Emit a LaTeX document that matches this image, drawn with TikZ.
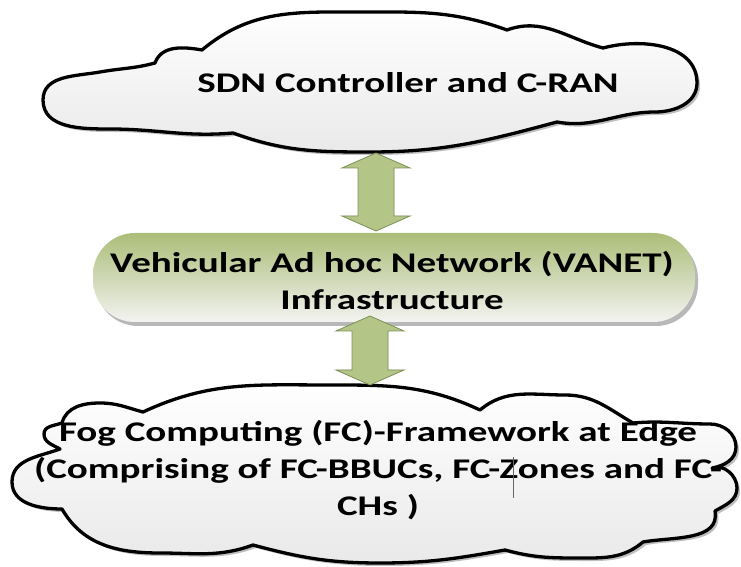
\documentclass[tikz,border=0pt]{standalone}
\usepackage{fontspec}
\newfontfamily\lblfont[FakeStretch=1.37]{Carlito}
\usetikzlibrary{calc}
\definecolor{arrowgreen}{HTML}{B3C688}
\definecolor{arrowedge}{HTML}{7F9055}
\definecolor{pilltop}{HTML}{ABBD78}
\definecolor{pillbottom}{HTML}{F3F3F1}

% two-headed block arrow between a top tip and a bottom tip
\newcommand\blockarrow[3]{%
  \path[#1] let \p1=(#2), \p2=(#3) in
    (\x1,\y1) -- (\x1+34,\y1-15) -- (\x1+18,\y1-15) -- (\x2+18,\y2+15)
    -- (\x2+34,\y2+15) -- (\x2,\y2) -- (\x2-34,\y2+15) -- (\x2-18,\y2+15)
    -- (\x1-18,\y1-15) -- (\x1-34,\y1-15) -- cycle;}

% outline of the upper cloud
\newcommand\uppercloud[1]{%
  \path[#1] (233,434) to[out=185,in=0] (110,438) to[out=180,in=-90] (43,467)
    to[out=90,in=190] (100,495) to[out=10,in=195] (155,504)
    to[out=70,in=170] (202,517) to[out=40,in=180] (360,555)
    to[out=0,in=160] (507,537) to[out=20,in=165] (603,519)
    to[out=15,in=90] (697,484) to[out=-90,in=0] (655,455)
    to[out=180,in=-10] (557,445) to[out=-165,in=0] (370,415)
    to[out=180,in=-20] (233,434) -- cycle;}

% outline of the lower cloud
\newcommand\lowercloud[1]{%
  \path[#1] (62,144) to[out=75,in=180] (100,164) to[out=0,in=165] (143,155)
    to[out=25,in=180] (330,182) to[out=0,in=155] (480,157)
    to[out=40,in=180] (565,172) to[out=0,in=150] (633,144)
    to[out=5,in=180] (710,143) to[out=0,in=90] (736,120)
    to[out=-90,in=10] (712,99) to[out=20,in=90] (737,79)
    to[out=-90,in=30] (715,56) to[out=-80,in=10] (643,25)
    to[out=-140,in=0] (575,9) to[out=180,in=-15] (505,17)
    to[out=-170,in=0] (380,4) to[out=180,in=-15] (253,22)
    to[out=-160,in=0] (160,14) to[out=180,in=-60] (62,58)
    to[out=180,in=-90] (12,85) to[out=90,in=200] (60,118)
    to[out=150,in=-90] (44,133) to[out=90,in=200] (62,144) -- cycle;}

% white-to-grey fill made of thin horizontal bands, from #1 (top) to #2 (bottom)
\newcommand\bandfill[2]{%
  \foreach \k in {0,...,39} {
    \pgfmathsetmacro\g{\k*0.22}
    \fill[black!\g] (0,{#1-(#1-#2)*\k/40}) rectangle (741,{#1-(#1-#2)*(\k+1)/40-0.6});
  }}

\begin{document}
\begin{tikzpicture}[x=1pt,y=1pt,
  cloudline/.style={draw=black, line width=3.3pt, line join=round},
  cloudshadow/.style={fill=black!25, shift={(3,-3)}},
  lbl/.style={font=\lblfont\bfseries\fontsize{28.5}{37}\selectfont,
    align=center, text=black, inner sep=0pt},
  pill/.style={rounded corners=42pt, minimum width=602pt, minimum height=89pt,
    top color=pilltop, bottom color=pillbottom, draw=none},
  pillshadow/.style={rounded corners=42pt, minimum width=602pt, minimum height=89pt,
    fill=black!28, draw=none},
  arrowbody/.style={fill=arrowgreen, draw=arrowedge, line width=0.8pt, line join=miter},
  arrowshadow/.style={fill=black!30, shift={(4,-2)}}]
\useasboundingbox (0,0) rectangle (741,567);

% upper cloud: shadow, graded body, outline
\uppercloud{cloudshadow}
\begin{scope}
  \uppercloud{clip}
  \bandfill{560}{410}
\end{scope}
\uppercloud{cloudline}

% lower cloud: shadow, graded body, outline
\lowercloud{cloudshadow}
\begin{scope}
  \lowercloud{clip}
  \bandfill{188}{0}
\end{scope}
\lowercloud{cloudline}

% middle layer
\node[pillshadow] (vanetshadow) at (397,285.5) {};
\node[pill] (vanet) at (394,289.5) {};

% arrow tips
\coordinate (sdnbase) at (376,414);
\coordinate (vanettop) at (376,336);
\coordinate (vanetbase) at (370,251);
\coordinate (fogtop) at (370,182);

\blockarrow{arrowshadow}{sdnbase}{vanettop}
\blockarrow{arrowbody}{sdnbase}{vanettop}
\blockarrow{arrowshadow}{vanetbase}{fogtop}
\blockarrow{arrowbody}{vanetbase}{fogtop}

% labels
\node[lbl] (sdn) at (408,484) {SDN Controller and C-RAN};
\node[lbl] (vanettext) at (392,286) {Vehicular Ad hoc Network (VANET)\\Infrastructure};
\node[lbl] (fog) at (378,96.5) {Fog Computing (FC)-Framework at Edge\\(Comprising of FC-BBUCs, FC-Zones and FC-\\CHs )};

% text cursor
\coordinate (cursortop) at (513,110);
\coordinate (cursorbot) at (513,69);
\draw[black!60, line width=0.7pt] (cursortop) -- (cursorbot);
\end{tikzpicture}
\end{document}
